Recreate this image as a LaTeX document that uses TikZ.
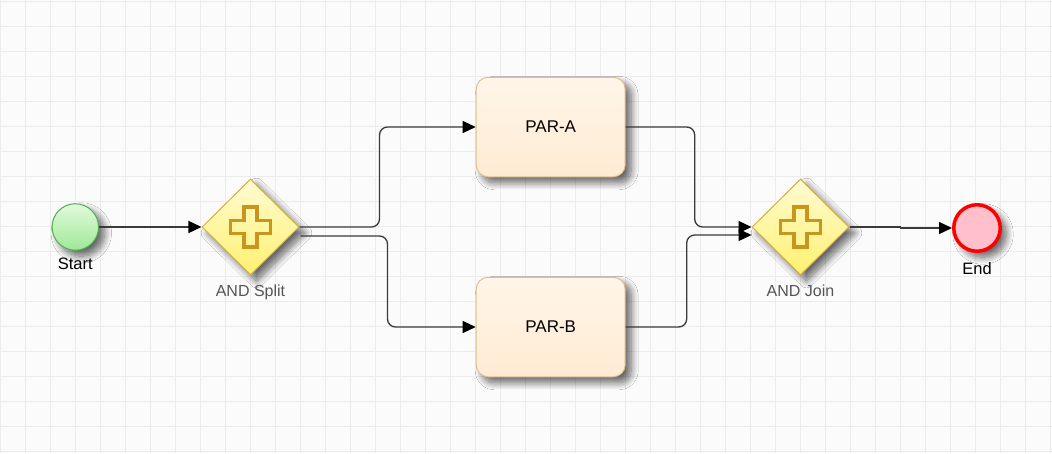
\documentclass[tikz,border=0pt]{standalone}
\usepackage{fontspec}
\setmainfont{Liberation Sans}
\usetikzlibrary{shapes.geometric,arrows.meta,shadows.blur}
\definecolor{bgcol}{HTML}{FBFBFB}
\definecolor{gridcol}{HTML}{ECECEC}
\definecolor{flowcol}{HTML}{3A3A3A}
\definecolor{startborder}{HTML}{4DAF4D}
\definecolor{starttop}{HTML}{E2FADD}
\definecolor{startbottom}{HTML}{9EE896}
\definecolor{endborder}{HTML}{FF0000}
\definecolor{endfill}{HTML}{FFC0CB}
\definecolor{gwborder}{HTML}{D4AE3C}
\definecolor{gwtop}{HTML}{FFFBD2}
\definecolor{gwbottom}{HTML}{FFF170}
\definecolor{gwplus}{HTML}{C8961E}
\definecolor{taskborder}{HTML}{DDBF92}
\definecolor{tasktop}{HTML}{FFF5E8}
\definecolor{taskbottom}{HTML}{FFEBD3}
\definecolor{gwtext}{HTML}{555555}
\begin{document}
\begin{tikzpicture}[x=1pt,y=-1pt,
    shadowed/.style={blur shadow={shadow xshift=6pt,shadow yshift=-6pt,shadow blur radius=7pt,shadow blur steps=12,shadow opacity=60}},
    eventstart/.style={circle,draw=startborder,line width=1pt,top color=starttop,bottom color=startbottom,minimum size=46.5pt,inner sep=0pt,shadowed},
    eventend/.style={circle,draw=endborder,line width=3.5pt,fill=endfill,minimum size=46.5pt,inner sep=0pt,shadowed},
    gateway/.style={diamond,draw=gwborder,line width=1pt,top color=gwtop,bottom color=gwbottom,minimum width=97pt,minimum height=96pt,inner sep=0pt,shadowed,
        path picture={\draw[gwplus,line width=3.2pt] (path picture bounding box.center) ++(-6.5,-20) -- ++(13,0) -- ++(0,13.5) -- ++(13.5,0) -- ++(0,13) -- ++(-13.5,0) -- ++(0,13.5) -- ++(-13,0) -- ++(0,-13.5) -- ++(-13.5,0) -- ++(0,-13) -- ++(13.5,0) -- cycle;}},
    taskbox/.style={rectangle,rounded corners=12pt,draw=taskborder,line width=1pt,top color=tasktop,bottom color=taskbottom,minimum width=149pt,minimum height=99.5pt,inner sep=0pt,text=black,font=\fontsize{17}{20}\selectfont,shadowed},
    lbl/.style={anchor=base,inner sep=0pt,text=black,font=\fontsize{16.5}{20}\selectfont},
    gwlbl/.style={anchor=base,inner sep=0pt,text=gwtext,font=\fontsize{16}{19}\selectfont},
    flow/.style={draw=flowcol,line width=1.3pt,-{Triangle[length=13pt,width=12pt,color=black]}},
    gridline/.style={draw=gridcol,line width=1.2pt}]
    \useasboundingbox (0,0) rectangle (1052,453);
    \fill[bgcol] (0,0) rectangle (1052,453);
    %% grid
    \foreach \gx in {0,...,42}
        \draw[gridline] (0.5+25*\gx,0) -- (0.5+25*\gx,453);
    \foreach \gy in {0,...,18}
        \draw[gridline] (0,1.5+25*\gy) -- (1052,1.5+25*\gy);
    %% events, gateways, tasks
    \node[eventstart] (startev) at (75.3,227) {};
    \node[gateway] (split) at (250.5,227) {};
    \node[taskbox] (para) at (550.7,127) {PAR-A};
    \node[taskbox] (parb) at (550.7,327) {PAR-B};
    \node[gateway] (join) at (800.5,227) {};
    \node[eventend] (endev) at (977,228) {};
    %% labels
    \node[lbl] (startlbl) at ([yshift=-19pt]startev.south) {Start};
    \node[gwlbl] (splitlbl) at ([yshift=-21pt]split.south) {AND Split};
    \node[gwlbl] (joinlbl) at ([yshift=-21pt]join.south) {AND Join};
    \node[lbl] (endlbl) at ([yshift=-21pt]endev.south) {End};
    %% flows
    \draw[flow] (startev) -- (split);
    \draw[flow,rounded corners=8pt] (split.east) -- ++(80,0) |- (para.west);
    \draw[flow,rounded corners=8pt] ([xshift=1pt,yshift=-9pt]split.east) -- ++(87,0) |- (parb.west);
    \draw[flow,rounded corners=8pt] (para.east) -- ++(69,0) |- (join.west);
    \draw[flow,rounded corners=8pt] (parb.east) -- ++(61,0) |- ([yshift=-8pt]join.west);
    \draw[flow] (join.east) -- ++(51,0) |- (endev.west);
\end{tikzpicture}
\end{document}
